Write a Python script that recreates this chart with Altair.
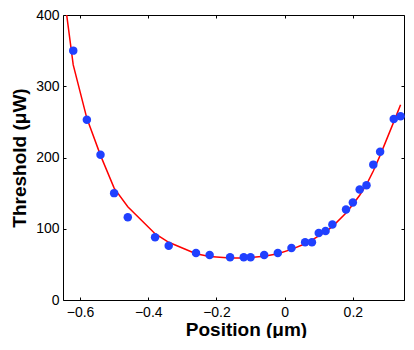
import altair as alt
import pandas as pd

# Measured points
pos = [-0.62, -0.58, -0.54, -0.50, -0.46, -0.38, -0.34, -0.26, -0.22, -0.16,
       -0.12, -0.10, -0.06, -0.02, 0.02, 0.06, 0.08, 0.10, 0.12, 0.14,
       0.18, 0.20, 0.22, 0.24, 0.26, 0.28, 0.32, 0.34]
thr = [350, 253, 204, 150, 116, 88, 76, 66, 63, 60,
       60, 60, 63, 66, 73, 81, 81, 94, 97, 106,
       127, 137, 155, 161, 190, 208, 254, 258]

# Fitted curve
fit_pos = [-0.64, -0.62, -0.58, -0.54, -0.50, -0.46, -0.38, -0.34, -0.26, -0.22,
           -0.16, -0.12, -0.10, -0.06, -0.02, 0.02, 0.06, 0.08, 0.10, 0.12,
           0.14, 0.18, 0.20, 0.22, 0.24, 0.26, 0.28, 0.32, 0.34]
fit_thr = [403, 330, 255, 203, 157, 131, 93, 81, 65, 61,
           59, 59, 59.5, 61.5, 65, 71, 79, 84, 90, 96,
           103, 122, 134, 147, 162, 181, 203, 250, 274]

x_ticks = [-0.6, -0.4, -0.2, 0, 0.2]
y_ticks = [0, 100, 200, 300, 400]

pts = pd.DataFrame({"pos": pos, "thr": thr})
fit = pd.DataFrame({"pos": fit_pos, "thr": fit_thr})

FONT = "Liberation Sans"
xscale = alt.Scale(domain=[-0.65, 0.35], nice=False, zero=False)
yscale = alt.Scale(domain=[0, 400], nice=False)

tick_style = dict(domain=False, grid=False, tickSize=3, offset=-3, tickColor="black",
                  labelFont=FONT, labelFontSize=14, labelColor="black")
title_style = dict(titleFont=FONT, titleFontSize=19, titleFontWeight="bold", titleColor="black")

line = alt.Chart(fit).mark_line(color="#ff0000", strokeWidth=1.5, clip=True).encode(
    x=alt.X("pos:Q", scale=xscale,
            axis=alt.Axis(orient="bottom", values=x_ticks, format="~g",
                          title="Position (\u03bcm)", labelPadding=5, titlePadding=1,
                          titleX=183, titleAnchor="middle", **tick_style, **title_style)),
    y=alt.Y("thr:Q", scale=yscale,
            axis=alt.Axis(orient="left", values=y_ticks, format="d",
                          title="Threshold (\u03bcW)", labelPadding=4, titlePadding=6,
                          **tick_style, **title_style)),
)

points = alt.Chart(pts).mark_circle(color="#2040ff", opacity=1, size=72).encode(
    x=alt.X("pos:Q", scale=xscale,
            axis=alt.Axis(orient="top", values=x_ticks, labels=False, title=None, **tick_style)),
    y=alt.Y("thr:Q", scale=yscale,
            axis=alt.Axis(orient="right", values=y_ticks, labels=False, title=None, **tick_style)),
)

chart = alt.layer(line, points).resolve_axis(x="independent", y="independent").properties(
    width=341, height=285,
    background="white",
    autosize=alt.AutoSizeParams(type="none"),
    padding={"left": 55, "top": 7, "right": 2, "bottom": 38},
).configure_view(stroke="black", strokeWidth=1)

chart.save("out.html", embed_options={"renderer": "svg", "actions": False})
